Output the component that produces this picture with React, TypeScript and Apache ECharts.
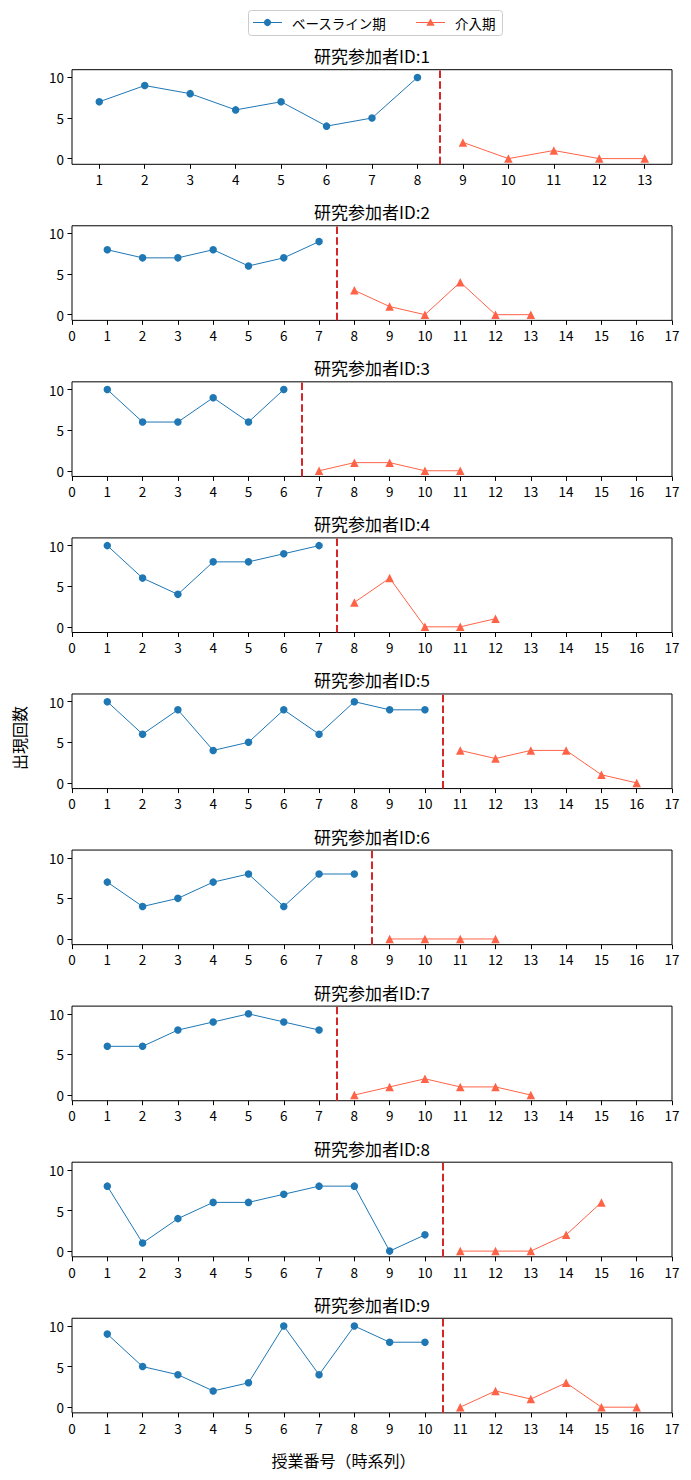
import React, { useEffect, useRef } from "react";
import * as echarts from "echarts";

// ---- data ----
const participantTitles = [
  "研究参加者ID:1",
  "研究参加者ID:2",
  "研究参加者ID:3",
  "研究参加者ID:4",
  "研究参加者ID:5",
  "研究参加者ID:6",
  "研究参加者ID:7",
  "研究参加者ID:8",
  "研究参加者ID:9",
];

const baselineP1 = [7, 9, 8, 6, 7, 4, 5, 10];
const interventionP1 = [2, 0, 1, 0, 0];
const baselineP2 = [8, 7, 7, 8, 6, 7, 9];
const interventionP2 = [3, 1, 0, 4, 0, 0];
const baselineP3 = [10, 6, 6, 9, 6, 10];
const interventionP3 = [0, 1, 1, 0, 0];
const baselineP4 = [10, 6, 4, 8, 8, 9, 10];
const interventionP4 = [3, 6, 0, 0, 1];
const baselineP5 = [10, 6, 9, 4, 5, 9, 6, 10, 9, 9];
const interventionP5 = [4, 3, 4, 4, 1, 0];
const baselineP6 = [7, 4, 5, 7, 8, 4, 8, 8];
const interventionP6 = [0, 0, 0, 0];
const baselineP7 = [6, 6, 8, 9, 10, 9, 8];
const interventionP7 = [0, 1, 2, 1, 1, 0];
const baselineP8 = [8, 1, 4, 6, 6, 7, 8, 8, 0, 2];
const interventionP8 = [0, 0, 0, 2, 6];
const baselineP9 = [9, 5, 4, 2, 3, 10, 4, 10, 8, 8];
const interventionP9 = [0, 2, 1, 3, 0, 0];

const baselines = [baselineP1, baselineP2, baselineP3, baselineP4, baselineP5, baselineP6, baselineP7, baselineP8, baselineP9];
const interventions = [interventionP1, interventionP2, interventionP3, interventionP4, interventionP5, interventionP6, interventionP7, interventionP8, interventionP9];

const xTicksP1 = [1, 2, 3, 4, 5, 6, 7, 8, 9, 10, 11, 12, 13];
const xTicksShared = [0, 1, 2, 3, 4, 5, 6, 7, 8, 9, 10, 11, 12, 13, 14, 15, 16, 17];
const yTicks = [0, 5, 10];
const legendLabels = ["ベースライン期", "介入期"];
const xAxisTitle = "授業番号（時系列）";
const yAxisTitle = "出現回数";

// ---- style ----
const FONT = "'Noto Sans CJK JP', 'Noto Sans', sans-serif";
const BLUE = "#1f77b4";
const ORANGE = "#ff6347";
const RED = "#d62728";
const GRID_LEFT = 72;
const GRID_WIDTH = 600;
const GRID_TOP0 = 69.7;
const GRID_STEP = 156.07;
const GRID_HEIGHT = 94.6;

export default function App() {
  const ref = useRef<HTMLDivElement>(null);

  useEffect(() => {
    document.body.style.margin = "0";
    if (!ref.current) return;
    const chart = echarts.init(ref.current, undefined, { renderer: "svg" });

    const grids: any[] = [];
    const xAxes: any[] = [];
    const yAxes: any[] = [];
    const series: any[] = [];
    const graphics: any[] = [];

    for (let i = 0; i < 9; i++) {
      const top = GRID_TOP0 + GRID_STEP * i;
      grids.push({
        left: GRID_LEFT,
        top,
        width: GRID_WIDTH,
        height: GRID_HEIGHT,
        show: true,
        borderColor: "#000",
        borderWidth: 1,
        backgroundColor: "#fff",
        containLabel: false,
      });
      const ticks = i === 0 ? xTicksP1 : xTicksShared;
      xAxes.push({
        type: "value",
        gridIndex: i,
        min: i === 0 ? 0.4 : 0,
        max: i === 0 ? 13.6 : 17,
        axisLine: { show: false, onZero: false },
        axisTick: { show: true, inside: false, length: 4.5, customValues: ticks, lineStyle: { color: "#000", width: 1 } },
        axisLabel: { show: true, margin: 8, customValues: ticks, color: "#000", fontSize: 13.5, fontFamily: FONT },
        splitLine: { show: false },
      });
      yAxes.push({
        type: "value",
        gridIndex: i,
        min: -0.7,
        max: 10.95,
        axisLine: { show: false, onZero: false },
        axisTick: { show: true, inside: false, length: 4.5, customValues: yTicks, lineStyle: { color: "#000", width: 1 } },
        axisLabel: { show: true, margin: 8, customValues: yTicks, color: "#000", fontSize: 13.5, fontFamily: FONT },
        splitLine: { show: false },
      });

      const base = baselines[i];
      const inter = interventions[i];
      const n = base.length;
      series.push({
        name: legendLabels[0],
        type: "line",
        xAxisIndex: i,
        yAxisIndex: i,
        data: base.map((v, k) => [k + 1, v]),
        symbol: "circle",
        symbolSize: 7.5,
        lineStyle: { color: BLUE, width: 1 },
        itemStyle: { color: BLUE },
        z: 3,
        markLine: {
          silent: true,
          symbol: ["none", "none"],
          label: { show: false },
          lineStyle: { color: RED, width: 2, type: [7.5, 3.3] },
          data: [{ xAxis: n + 0.5 }],
        },
      });
      series.push({
        name: legendLabels[1],
        type: "line",
        xAxisIndex: i,
        yAxisIndex: i,
        data: inter.map((v, k) => [n + k + 1, v]),
        symbol: "triangle",
        symbolSize: 8.5,
        lineStyle: { color: ORANGE, width: 1 },
        itemStyle: { color: ORANGE },
        z: 3,
      });

      graphics.push({
        type: "text",
        x: GRID_LEFT + GRID_WIDTH / 2,
        y: top - 14,
        style: {
          text: participantTitles[i],
          fontSize: 17,
          fontFamily: FONT,
          fill: "#000",
          textAlign: "center",
          textVerticalAlign: "middle",
        },
      });
    }

    // legend (manual)
    graphics.push({
      type: "rect",
      shape: { x: 248.5, y: 10.5, width: 254, height: 25, r: 3 },
      style: { fill: "#fff", stroke: "#cccccc", lineWidth: 1 },
    });
    graphics.push({ type: "line", shape: { x1: 253, y1: 22.5, x2: 282, y2: 22.5 }, style: { stroke: BLUE, lineWidth: 1 } });
    graphics.push({ type: "circle", shape: { cx: 267.5, cy: 22.5, r: 3.6 }, style: { fill: BLUE } });
    graphics.push({
      type: "text",
      x: 292,
      y: 22.5,
      style: { text: legendLabels[0], fontSize: 13.5, fontFamily: FONT, fill: "#000", textAlign: "left", textVerticalAlign: "middle" },
    });
    graphics.push({ type: "line", shape: { x1: 416, y1: 22.5, x2: 445, y2: 22.5 }, style: { stroke: ORANGE, lineWidth: 1 } });
    graphics.push({
      type: "polygon",
      shape: { points: [[430.5, 18.5], [426.3, 25.8], [434.7, 25.8]] },
      style: { fill: ORANGE },
    });
    graphics.push({
      type: "text",
      x: 455,
      y: 22.5,
      style: { text: legendLabels[1], fontSize: 13.5, fontFamily: FONT, fill: "#000", textAlign: "left", textVerticalAlign: "middle" },
    });

    // axis titles
    graphics.push({
      type: "text",
      x: 19,
      y: 738,
      rotation: Math.PI / 2,
      style: { text: yAxisTitle, fontSize: 16, fontFamily: FONT, fill: "#000", textAlign: "center", textVerticalAlign: "middle" },
    });
    graphics.push({
      type: "text",
      x: 343.5,
      y: 1460,
      style: { text: xAxisTitle, fontSize: 16, fontFamily: FONT, fill: "#000", textAlign: "center", textVerticalAlign: "middle" },
    });

    chart.setOption({
      animation: false,
      backgroundColor: "#fff",
      textStyle: { fontFamily: FONT },
      grid: grids,
      xAxis: xAxes,
      yAxis: yAxes,
      series,
      graphic: graphics,
    });

    return () => {
      chart.dispose();
    };
  }, []);

  return <div ref={ref} style={{ width: 691, height: 1480 }} />;
}
